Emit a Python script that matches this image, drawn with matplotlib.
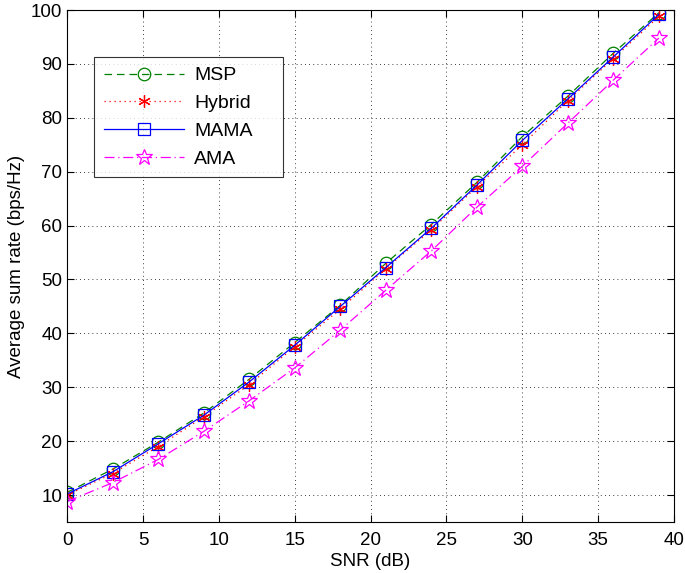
import matplotlib
matplotlib.use("Agg")
import matplotlib.pyplot as plt

snr = [0, 3, 6, 9, 12, 15, 18, 21, 24, 27, 30, 33, 36, 39]
msp = [10.5, 14.8, 19.8, 25.2, 31.5, 38.3, 45.2, 53.0, 60.2, 68.0, 76.5, 84.0, 92.0, 99.5]
hybrid = [10.0, 14.0, 19.0, 24.5, 30.5, 37.5, 44.5, 52.0, 59.2, 67.2, 75.0, 83.2, 91.0, 98.8]
mama = [10.2, 14.3, 19.5, 24.8, 31.0, 37.8, 45.0, 52.2, 59.5, 67.5, 75.8, 83.5, 91.3, 99.2]
ama = [8.8, 12.3, 16.6, 21.8, 27.5, 33.6, 40.6, 48.0, 55.3, 63.4, 71.0, 79.0, 87.0, 94.8]
labels = ["MSP", "Hybrid", "MAMA", "AMA"]

plt.rcParams['font.family'] = ['Liberation Sans', 'DejaVu Sans']
fig = plt.figure(figsize=(6.85, 5.73), dpi=100)
ax = fig.add_axes([0.098, 0.089, 0.886, 0.8935])

ax.plot(snr, msp, color='#008000', linestyle=(0, (6, 4)), lw=0.9, marker='o', ms=9,
        mfc='none', mec='#008000', mew=0.9, label=labels[0])
ax.plot(snr, hybrid, color='red', linestyle=(0, (1, 3)), lw=0.9, marker=(6, 2, 0), ms=9,
        mec='red', mew=0.9, label=labels[1])
ax.plot(snr, mama, color='blue', linestyle='-', lw=0.9, marker='s', ms=8,
        mfc='none', mec='blue', mew=0.9, label=labels[2])
ax.plot(snr, ama, color='magenta', linestyle=(0, (8, 3, 1, 3)), lw=0.9, marker='*', ms=12,
        mfc='none', mec='magenta', mew=0.9, label=labels[3])

ax.set_xlim(0, 40)
ax.set_ylim(5, 100)
ax.set_xticks(range(0, 41, 5))
ax.set_yticks(range(10, 101, 10))
ax.grid(True, color='black', linestyle=(0, (1, 4)), lw=0.6)
ax.tick_params(direction='in', labelsize=13.5, length=5, top=True, right=True)
ax.tick_params(axis='x', pad=7)
for s in ax.spines.values():
    s.set_linewidth(0.8)
ax.set_xlabel('SNR (dB)', fontsize=13.5, labelpad=3)
ax.set_ylabel('Average sum rate (bps/Hz)', fontsize=13.5, labelpad=4)

leg = ax.legend(loc='upper left', bbox_to_anchor=(0.0445, 0.0, 0.311, 0.908), mode='expand',
                borderaxespad=0, fontsize=14, frameon=True,
                fancybox=False, edgecolor='black', handlelength=4.1, borderpad=0.5,
                labelspacing=0.52, handletextpad=0.55)
leg.get_frame().set_linewidth(0.8)

fig.savefig('out.png', dpi=100)
